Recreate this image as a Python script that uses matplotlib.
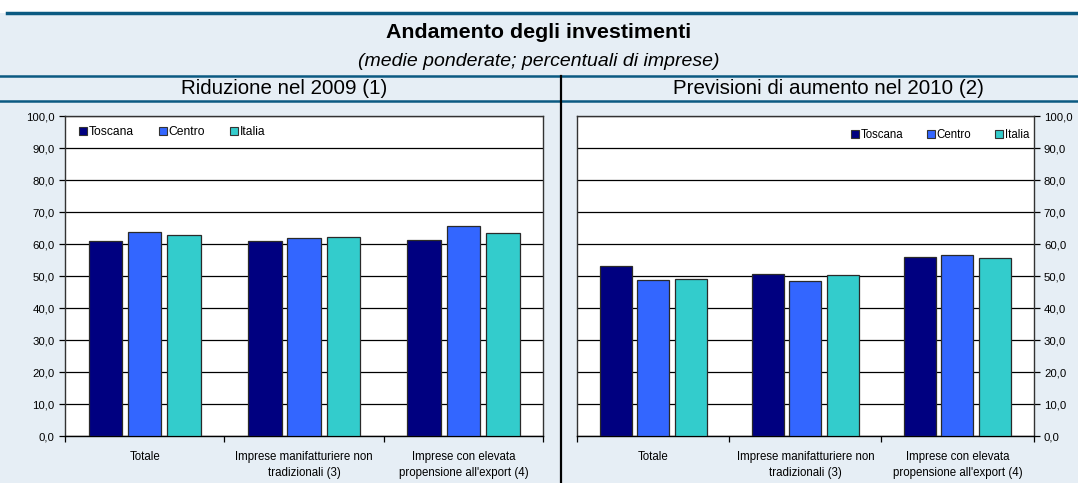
import matplotlib
matplotlib.use("Agg")
import matplotlib.pyplot as plt
from matplotlib.patches import Patch
from matplotlib.lines import Line2D
import numpy as np

plt.rcParams['font.family'] = ['Liberation Sans', 'DejaVu Sans']

categories = ["Totale", "Imprese manifatturiere non\ntradizionali (3)",
              "Imprese con elevata\npropensione all'export (4)"]
series = ["Toscana", "Centro", "Italia"]
colors = ["#000080", "#3366FF", "#33CCCC"]

riduzione_2009 = {
    "Toscana": [60.9, 60.9, 61.4],
    "Centro": [63.9, 62.1, 65.8],
    "Italia": [63.0, 62.3, 63.4],
}
aumento_2010 = {
    "Toscana": [53.1, 50.6, 55.9],
    "Centro": [49.0, 48.6, 56.6],
    "Italia": [49.1, 50.3, 55.8],
}
yticks = np.arange(0, 101, 10)
title = "Andamento degli investimenti"
subtitle = "(medie ponderate; percentuali di imprese)"
panel_titles = ["Riduzione nel 2009 (1)", "Previsioni di aumento nel 2010 (2)"]

BG = "#E6EEF5"
LINE = "#0B5A82"
W, H = 1078, 483
fig = plt.figure(figsize=(W / 100, H / 100), dpi=100)
fig.patch.set_facecolor("white")

def fx(px):
    return px / W

def fy(py):
    return 1 - py / H

# background panel
fig.add_artist(plt.Rectangle((fx(0), 0), 1, fy(13), transform=fig.transFigure,
                             facecolor=BG, edgecolor="none", zorder=0))
fig.add_artist(Line2D([fx(7), 1], [fy(12.5), fy(12.5)], transform=fig.transFigure,
                      color=LINE, lw=2.5))
fig.add_artist(Line2D([0, 1], [fy(75.5), fy(75.5)], transform=fig.transFigure,
                      color=LINE, lw=1.8))
fig.add_artist(Line2D([0, 1], [fy(100.5), fy(100.5)], transform=fig.transFigure,
                      color=LINE, lw=1.8))
fig.add_artist(Line2D([fx(561), fx(561)], [0, fy(75.5)], transform=fig.transFigure,
                      color="black", lw=1.6))

fig.text(0.5, fy(33), title, ha="center", va="center", fontsize=15.4, fontweight="bold")
fig.text(0.5, fy(62), subtitle, ha="center", va="center", fontsize=14, style="italic")
fig.text(fx(284.5), fy(88.5), panel_titles[0], ha="center", va="center", fontsize=14.8)
fig.text(fx(828), fy(88.5), panel_titles[1], ha="center", va="center", fontsize=14.8)

FS_TICK = 8.2
FS_CAT = 8.3

def draw(ax, data, right=False):
    x = np.arange(len(categories))
    pitch, width = 0.247, 0.21
    for i, s in enumerate(series):
        ax.bar(x + (i - 1) * pitch, data[s], width, color=colors[i],
               edgecolor="#2a2a2a", linewidth=0.9, zorder=3, label=s)
    ax.set_xlim(-0.5, len(categories) - 0.5)
    ax.set_ylim(0, 100)
    ax.set_yticks(yticks)
    ax.set_yticklabels([f"{v:.1f}".replace(".", ",") for v in yticks], fontsize=FS_TICK)
    ax.yaxis.grid(True, color="black", lw=0.9, zorder=1)
    ax.set_axisbelow(True)
    ax.set_xticks(x)
    ax.set_xticklabels(categories, fontsize=FS_CAT, linespacing=1.5)
    ax.tick_params(axis="x", which="major", length=0, pad=10.5)
    ax.set_xticks(np.arange(-0.5, len(categories), 1.0), minor=True)
    ax.tick_params(axis="x", which="minor", length=4, width=0.9, direction="out")
    ax.tick_params(axis="y", length=4, width=0.9, direction="out", pad=3.5)
    for sp in ax.spines.values():
        sp.set_color("#333333")
        sp.set_linewidth(1.0)
    ax.spines["bottom"].set_color("black")
    if right:
        ax.yaxis.tick_right()
        ax.tick_params(axis="y", which="both", left=False, right=True)
    ax.set_facecolor("white")
    handles = [Patch(facecolor=c, edgecolor="#333333", linewidth=0.8) for c in colors]
    common = dict(ncol=3, frameon=False, handlelength=0.66,
                  handleheight=0.66, handletextpad=0.15,
                  borderaxespad=0.0, borderpad=0.0)
    if right:
        ax.legend(handles, series, loc="center right", fontsize=8.3, columnspacing=2.1,
                  bbox_to_anchor=(1 - 4.5 / 456.2, 1 - (135 - 116.3) / 320), **common)
    else:
        ax.legend(handles, series, loc="center left", fontsize=8.7, columnspacing=2.05,
                  bbox_to_anchor=(14 / 478, 1 - (132.3 - 116.3) / 320), **common)

ax1 = fig.add_axes([fx(65), fy(436.3), fx(543.3 - 65), (436.3 - 116.3) / H])
ax2 = fig.add_axes([fx(577.3), fy(436.3), fx(1033.5 - 577.3), (436.3 - 116.3) / H])
draw(ax1, riduzione_2009)
draw(ax2, aumento_2010, right=True)

fig.savefig("out.png", dpi=100, facecolor=fig.get_facecolor())
